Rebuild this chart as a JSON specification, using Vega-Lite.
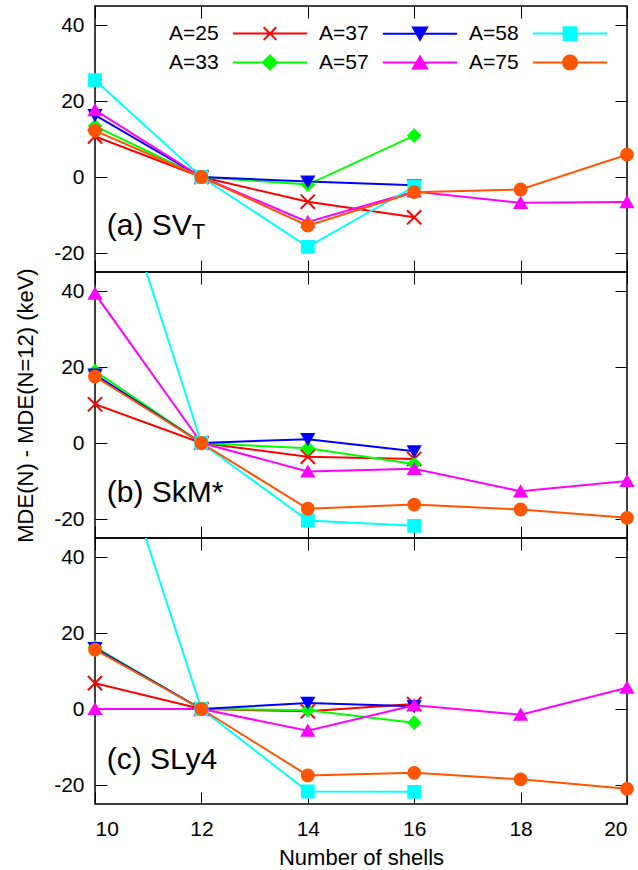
{
  "$schema": "https://vega.github.io/schema/vega-lite/v6.json",
  "background": "white",
  "padding": {"left": 13, "top": 4, "right": 11, "bottom": 0},
  "spacing": 0,
  "bounds": "flush",
  "config": {
    "font": "Liberation Sans",
    "view": {"stroke": "black", "strokeWidth": 1.5},
    "axis": {"labelFont": "Liberation Sans", "labelFontSize": 21, "labelColor": "black", "tickColor": "black", "tickWidth": 1, "titleFont": "Liberation Sans", "titleFontSize": 22, "titleFontWeight": "normal", "titleColor": "black", "grid": false, "domain": false, "labelExpr": "'' + datum.value"}
  },
  "datasets": {
    "d": [
      {"p":"a","A":"A=25","N":10,"v":10.7},{"p":"a","A":"A=25","N":12,"v":0},{"p":"a","A":"A=25","N":14,"v":-6.5},{"p":"a","A":"A=25","N":16,"v":-10.6},
      {"p":"a","A":"A=33","N":10,"v":13.4},{"p":"a","A":"A=33","N":12,"v":0},{"p":"a","A":"A=33","N":14,"v":-2.0},{"p":"a","A":"A=33","N":16,"v":10.9},
      {"p":"a","A":"A=37","N":10,"v":16.3},{"p":"a","A":"A=37","N":12,"v":0},{"p":"a","A":"A=37","N":14,"v":-1.2},{"p":"a","A":"A=37","N":16,"v":-2.2},
      {"p":"a","A":"A=57","N":10,"v":17.6},{"p":"a","A":"A=57","N":12,"v":0},{"p":"a","A":"A=57","N":14,"v":-11.8},{"p":"a","A":"A=57","N":16,"v":-3.8},{"p":"a","A":"A=57","N":18,"v":-6.8},{"p":"a","A":"A=57","N":20,"v":-6.6},
      {"p":"a","A":"A=58","N":10,"v":25.5},{"p":"a","A":"A=58","N":12,"v":0},{"p":"a","A":"A=58","N":14,"v":-18.4},{"p":"a","A":"A=58","N":16,"v":-2.5},
      {"p":"a","A":"A=75","N":10,"v":12.2},{"p":"a","A":"A=75","N":12,"v":0},{"p":"a","A":"A=75","N":14,"v":-12.8},{"p":"a","A":"A=75","N":16,"v":-4.0},{"p":"a","A":"A=75","N":18,"v":-3.3},{"p":"a","A":"A=75","N":20,"v":5.9},

      {"p":"b","A":"A=25","N":10,"v":10.2},{"p":"b","A":"A=25","N":12,"v":0},{"p":"b","A":"A=25","N":14,"v":-3.6},{"p":"b","A":"A=25","N":16,"v":-4.2},
      {"p":"b","A":"A=33","N":10,"v":18.9},{"p":"b","A":"A=33","N":12,"v":0},{"p":"b","A":"A=33","N":14,"v":-1.4},{"p":"b","A":"A=33","N":16,"v":-5.5},
      {"p":"b","A":"A=37","N":10,"v":18.0},{"p":"b","A":"A=37","N":12,"v":0},{"p":"b","A":"A=37","N":14,"v":1.0},{"p":"b","A":"A=37","N":16,"v":-2.2},
      {"p":"b","A":"A=57","N":10,"v":39.3},{"p":"b","A":"A=57","N":12,"v":0},{"p":"b","A":"A=57","N":14,"v":-7.5},{"p":"b","A":"A=57","N":16,"v":-6.8},{"p":"b","A":"A=57","N":18,"v":-12.7},{"p":"b","A":"A=57","N":20,"v":-10.0},
      {"p":"b","A":"A=58","N":10,"v":87},{"p":"b","A":"A=58","N":12,"v":0},{"p":"b","A":"A=58","N":14,"v":-20.4},{"p":"b","A":"A=58","N":16,"v":-21.8},
      {"p":"b","A":"A=75","N":10,"v":17.5},{"p":"b","A":"A=75","N":12,"v":0},{"p":"b","A":"A=75","N":14,"v":-17.3},{"p":"b","A":"A=75","N":16,"v":-16.2},{"p":"b","A":"A=75","N":18,"v":-17.5},{"p":"b","A":"A=75","N":20,"v":-19.7},

      {"p":"c","A":"A=25","N":10,"v":6.8},{"p":"c","A":"A=25","N":12,"v":0},{"p":"c","A":"A=25","N":14,"v":-0.6},{"p":"c","A":"A=25","N":16,"v":1.3},
      {"p":"c","A":"A=33","N":10,"v":16.3},{"p":"c","A":"A=33","N":12,"v":0},{"p":"c","A":"A=33","N":14,"v":-0.3},{"p":"c","A":"A=33","N":16,"v":-3.6},
      {"p":"c","A":"A=37","N":10,"v":16.0},{"p":"c","A":"A=37","N":12,"v":0},{"p":"c","A":"A=37","N":14,"v":1.6},{"p":"c","A":"A=37","N":16,"v":0.7},
      {"p":"c","A":"A=57","N":10,"v":0},{"p":"c","A":"A=57","N":12,"v":0},{"p":"c","A":"A=57","N":14,"v":-5.7},{"p":"c","A":"A=57","N":16,"v":1.0},{"p":"c","A":"A=57","N":18,"v":-1.5},{"p":"c","A":"A=57","N":20,"v":5.6},
      {"p":"c","A":"A=58","N":10,"v":86},{"p":"c","A":"A=58","N":12,"v":0},{"p":"c","A":"A=58","N":14,"v":-21.7},{"p":"c","A":"A=58","N":16,"v":-21.8},
      {"p":"c","A":"A=75","N":10,"v":15.6},{"p":"c","A":"A=75","N":12,"v":0},{"p":"c","A":"A=75","N":14,"v":-17.5},{"p":"c","A":"A=75","N":16,"v":-16.8},{"p":"c","A":"A=75","N":18,"v":-18.5},{"p":"c","A":"A=75","N":20,"v":-21.0}
    ]
  },
  "resolve": {"legend": {"color": "independent", "shape": "independent", "stroke": "independent"}},
  "vconcat": [
    {
      "width": 532, "height": 266,
      "data": {"name": "d"},
      "transform": [{"filter": "datum.p === 'a'"}],
      "layer": [
        {
          "mark": {"type": "line", "clip": true, "strokeWidth": 2},
          "encoding": {
            "x": {"field": "N", "type": "quantitative", "scale": {"domain": [10, 20], "nice": false, "zero": false}, "axis": {"orient": "bottom", "values": [10, 12, 14, 16, 18, 20], "labels": false, "title": null, "tickSize": -12}},
            "y": {"field": "v", "type": "quantitative", "scale": {"domain": [-25, 45], "nice": false, "zero": false}, "axis": {"orient": "left", "values": [-20, 0, 20, 40], "title": null, "tickSize": -12, "labelPadding": 23}},
            "color": {"field": "A", "type": "nominal", "scale": {"domain": ["A=25", "A=37", "A=58", "A=33", "A=57", "A=75"], "range": ["#ff0000", "#0000ff", "#00ffff", "#00ff00", "#ff00ff", "#ff5500"]},
              "legend": {
                "orient": "none", "legendX": 67, "legendY": 17, "title": null, "columns": 3, "direction": "horizontal",
                "labelFontSize": 21, "labelFont": "Liberation Sans", "labelColor": "black", "labelLimit": 0,
                "symbolSize": 196, "symbolOffset": 0, "labelOffset": -14, "columnPadding": -2, "rowPadding": 7, "padding": 0,
                "encode": {
                  "symbols": {"update": {
                    "shape": {"signal": "datum.value === 'A=25' ? 'M-5.3,0H5.3M-0.9,-0.9L0.9,0.9M-0.9,0.9L0.9,-0.9' : datum.value === 'A=37' ? 'M-5.3,0H5.3M0,0.87L-1,-0.87L1,-0.87Z' : datum.value === 'A=58' ? 'M-5.3,0H5.3M-0.9,-0.9H0.9V0.9H-0.9Z' : datum.value === 'A=33' ? 'M-5.3,0H5.3M-1,0L0,-1L1,0L0,1Z' : datum.value === 'A=57' ? 'M-5.3,0H5.3M0,-0.87L-1,0.87L1,0.87Z' : 'M-5.3,0H5.3M1,0A1,1,0,1,1,-1,0A1,1,0,1,1,1,0Z'"},
                    "x": {"value": 108},
                    "fill": {"scale": "color", "field": "value"},
                    "stroke": {"scale": "color", "field": "value"},
                    "strokeWidth": {"value": 2},
                    "size": {"value": 196},
                    "opacity": {"value": 1}
                  }}
                }
              }
            }
          }
        },
        {
          "transform": [{"filter": "datum.v <= 45"}],
          "mark": {"type": "point", "filled": true, "size": 140, "strokeWidth": 2, "opacity": 1},
          "encoding": {
            "x": {"field": "N", "type": "quantitative", "axis": null},
            "y": {"field": "v", "type": "quantitative", "axis": null},
            "color": {"field": "A", "type": "nominal", "scale": {"domain": ["A=25", "A=37", "A=58", "A=33", "A=57", "A=75"], "range": ["#ff0000", "#0000ff", "#00ffff", "#00ff00", "#ff00ff", "#ff5500"]}, "legend": null},
            "stroke": {"field": "A", "type": "nominal", "scale": {"domain": ["A=25", "A=33", "A=37", "A=57", "A=58", "A=75"], "range": ["#ff0000", "#00ff00", "#0000ff", "#ff00ff", "#00ffff", "#ff5500"]}, "legend": null},
            "shape": {"field": "A", "type": "nominal", "scale": {"domain": ["A=25", "A=33", "A=37", "A=57", "A=58", "A=75"], "range": ["M-1.2,-1.2L1.2,1.2M-1.2,1.2L1.2,-1.2", "diamond", "triangle-down", "triangle-up", "square", "circle"]}, "legend": null}
          }
        },
        {
          "data": {"values": [{"t": "(a) SV"}]},
          "mark": {"type": "text", "fontSize": 30, "align": "left", "baseline": "alphabetic", "color": "black", "font": "Liberation Sans"},
          "encoding": {
            "x": {"datum": 10.22, "type": "quantitative", "axis": null},
            "y": {"datum": -15.3, "type": "quantitative", "axis": null},
            "text": {"field": "t"}
          }
        },
        {
          "data": {"values": [{"t": "T"}]},
          "mark": {"type": "text", "fontSize": 22, "align": "left", "baseline": "alphabetic", "color": "black", "font": "Liberation Sans", "dx": 85, "dy": 4},
          "encoding": {
            "x": {"datum": 10.22, "type": "quantitative", "axis": null},
            "y": {"datum": -15.3, "type": "quantitative", "axis": null},
            "text": {"field": "t"}
          }
        },
        {
          "transform": [{"filter": "datum.v <= 45"}],
          "mark": {"type": "point", "opacity": 0},
          "encoding": {
            "x": {"field": "N", "type": "quantitative", "axis": {"orient": "top", "values": [10, 12, 14, 16, 18, 20], "labels": false, "title": null, "tickSize": -12}},
            "y": {"field": "v", "type": "quantitative", "axis": {"orient": "right", "values": [-20, 0, 20, 40], "labels": false, "title": null, "tickSize": -12}}
          }
        }
      ],
      "resolve": {"axis": {"x": "independent", "y": "independent"}}
    },
    {
      "width": 532, "height": 266,
      "data": {"name": "d"},
      "transform": [{"filter": "datum.p === 'b'"}],
      "layer": [
        {
          "mark": {"type": "line", "clip": true, "strokeWidth": 2},
          "encoding": {
            "x": {"field": "N", "type": "quantitative", "scale": {"domain": [10, 20], "nice": false, "zero": false}, "axis": {"orient": "bottom", "values": [10, 12, 14, 16, 18, 20], "labels": false, "title": null, "tickSize": -12}},
            "y": {"field": "v", "type": "quantitative", "scale": {"domain": [-25, 45], "nice": false, "zero": false}, "axis": {"orient": "left", "values": [-20, 0, 20, 40], "title": "MDE(N) - MDE(N=12) (keV)", "titlePadding": 16, "tickSize": -12, "labelPadding": 23}},
            "color": {"field": "A", "type": "nominal", "scale": {"domain": ["A=25", "A=37", "A=58", "A=33", "A=57", "A=75"], "range": ["#ff0000", "#0000ff", "#00ffff", "#00ff00", "#ff00ff", "#ff5500"]}, "legend": null}
          }
        },
        {
          "transform": [{"filter": "datum.v <= 45"}],
          "mark": {"type": "point", "filled": true, "size": 140, "strokeWidth": 2, "opacity": 1},
          "encoding": {
            "x": {"field": "N", "type": "quantitative", "axis": null},
            "y": {"field": "v", "type": "quantitative", "axis": null},
            "color": {"field": "A", "type": "nominal", "scale": {"domain": ["A=25", "A=37", "A=58", "A=33", "A=57", "A=75"], "range": ["#ff0000", "#0000ff", "#00ffff", "#00ff00", "#ff00ff", "#ff5500"]}, "legend": null},
            "stroke": {"field": "A", "type": "nominal", "scale": {"domain": ["A=25", "A=33", "A=37", "A=57", "A=58", "A=75"], "range": ["#ff0000", "#00ff00", "#0000ff", "#ff00ff", "#00ffff", "#ff5500"]}, "legend": null},
            "shape": {"field": "A", "type": "nominal", "scale": {"domain": ["A=25", "A=33", "A=37", "A=57", "A=58", "A=75"], "range": ["M-1.2,-1.2L1.2,1.2M-1.2,1.2L1.2,-1.2", "diamond", "triangle-down", "triangle-up", "square", "circle"]}, "legend": null}
          }
        },
        {
          "data": {"values": [{"t": "(b) SkM*"}]},
          "mark": {"type": "text", "fontSize": 30, "align": "left", "baseline": "alphabetic", "color": "black", "font": "Liberation Sans"},
          "encoding": {
            "x": {"datum": 10.22, "type": "quantitative", "axis": null},
            "y": {"datum": -15.5, "type": "quantitative", "axis": null},
            "text": {"field": "t"}
          }
        },
        {
          "transform": [{"filter": "datum.v <= 45"}],
          "mark": {"type": "point", "opacity": 0},
          "encoding": {
            "x": {"field": "N", "type": "quantitative", "axis": {"orient": "top", "values": [10, 12, 14, 16, 18, 20], "labels": false, "title": null, "tickSize": -12}},
            "y": {"field": "v", "type": "quantitative", "axis": {"orient": "right", "values": [-20, 0, 20, 40], "labels": false, "title": null, "tickSize": -12}}
          }
        }
      ],
      "resolve": {"axis": {"x": "independent", "y": "independent"}}
    },
    {
      "width": 532, "height": 266,
      "data": {"name": "d"},
      "transform": [{"filter": "datum.p === 'c'"}],
      "layer": [
        {
          "mark": {"type": "line", "clip": true, "strokeWidth": 2},
          "encoding": {
            "x": {"field": "N", "type": "quantitative", "scale": {"domain": [10, 20], "nice": false, "zero": false}, "axis": {"orient": "bottom", "values": [10, 12, 14, 16, 18, 20], "labelPadding": 26, "title": "Number of shells", "titlePadding": 8, "tickSize": -12}},
            "y": {"field": "v", "type": "quantitative", "scale": {"domain": [-25, 45], "nice": false, "zero": false}, "axis": {"orient": "left", "values": [-20, 0, 20, 40], "title": null, "tickSize": -12, "labelPadding": 23}},
            "color": {"field": "A", "type": "nominal", "scale": {"domain": ["A=25", "A=37", "A=58", "A=33", "A=57", "A=75"], "range": ["#ff0000", "#0000ff", "#00ffff", "#00ff00", "#ff00ff", "#ff5500"]}, "legend": null}
          }
        },
        {
          "transform": [{"filter": "datum.v <= 45"}],
          "mark": {"type": "point", "filled": true, "size": 140, "strokeWidth": 2, "opacity": 1},
          "encoding": {
            "x": {"field": "N", "type": "quantitative", "axis": null},
            "y": {"field": "v", "type": "quantitative", "axis": null},
            "color": {"field": "A", "type": "nominal", "scale": {"domain": ["A=25", "A=37", "A=58", "A=33", "A=57", "A=75"], "range": ["#ff0000", "#0000ff", "#00ffff", "#00ff00", "#ff00ff", "#ff5500"]}, "legend": null},
            "stroke": {"field": "A", "type": "nominal", "scale": {"domain": ["A=25", "A=33", "A=37", "A=57", "A=58", "A=75"], "range": ["#ff0000", "#00ff00", "#0000ff", "#ff00ff", "#00ffff", "#ff5500"]}, "legend": null},
            "shape": {"field": "A", "type": "nominal", "scale": {"domain": ["A=25", "A=33", "A=37", "A=57", "A=58", "A=75"], "range": ["M-1.2,-1.2L1.2,1.2M-1.2,1.2L1.2,-1.2", "diamond", "triangle-down", "triangle-up", "square", "circle"]}, "legend": null}
          }
        },
        {
          "data": {"values": [{"t": "(c) SLy4"}]},
          "mark": {"type": "text", "fontSize": 30, "align": "left", "baseline": "alphabetic", "color": "black", "font": "Liberation Sans"},
          "encoding": {
            "x": {"datum": 10.22, "type": "quantitative", "axis": null},
            "y": {"datum": -15.8, "type": "quantitative", "axis": null},
            "text": {"field": "t"}
          }
        },
        {
          "transform": [{"filter": "datum.v <= 45"}],
          "mark": {"type": "point", "opacity": 0},
          "encoding": {
            "x": {"field": "N", "type": "quantitative", "axis": {"orient": "top", "values": [10, 12, 14, 16, 18, 20], "labels": false, "title": null, "tickSize": -12}},
            "y": {"field": "v", "type": "quantitative", "axis": {"orient": "right", "values": [-20, 0, 20, 40], "labels": false, "title": null, "tickSize": -12}}
          }
        }
      ],
      "resolve": {"axis": {"x": "independent", "y": "independent"}}
    }
  ]
}
